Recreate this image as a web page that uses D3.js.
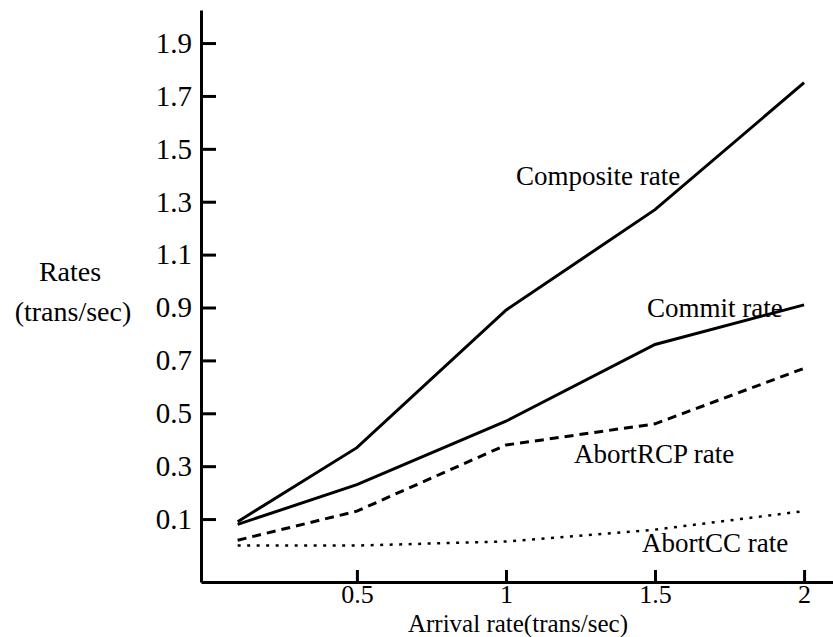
<!DOCTYPE html>
<html>
<head>
<meta charset="utf-8">
<script src="https://cdn.jsdelivr.net/npm/d3@7"></script>
<style>
  body { margin: 0; background: #fff; }
  svg text { font-family: "Liberation Serif", "Times New Roman", Times, "DejaVu Serif", serif; fill: #000; }
</style>
</head>
<body>
<div id="chart"></div>
<script>
// arrival rates where the simulation was sampled
var arrival = [0.1, 0.5, 1, 1.5, 2];

var composite = [0.09, 0.37, 0.89, 1.27, 1.75];
var commit = [0.08, 0.23, 0.47, 0.76, 0.91];
var abortRCP = [0.02, 0.13, 0.38, 0.46, 0.67];
var abortCC = [0.0, 0.0, 0.015, 0.06, 0.13];

var xTicks = [0.5, 1, 1.5, 2];
var yTicks = [0.1, 0.3, 0.5, 0.7, 0.9, 1.1, 1.3, 1.5, 1.7, 1.9];

var seriesNames = ["Composite rate", "Commit rate", "AbortRCP rate", "AbortCC rate"];
var seriesValues = [composite, commit, abortRCP, abortCC];
var seriesDash = [null, null, "9,6", "3,6.5"];

// where each curve's label sits, in data units (left edge, baseline)
var labelX = [1.034, 1.473, 1.228, 1.456];
var labelY = [1.363, 0.864, 0.312, -0.025];

var width = 833, height = 637;

var svg = d3.select("#chart").append("svg")
  .attr("width", width)
  .attr("height", height);

var x = d3.scaleLinear().domain([-0.023, 2.097]).range([201, 833]);
var y = d3.scaleLinear().domain([-0.138, 2.025]).range([582, 10]);

// x axis, ticks pointing up into the plot
var xAxis = svg.append("g")
  .attr("transform", "translate(0," + y(-0.138) + ")")
  .call(d3.axisBottom(x).tickValues(xTicks).tickSizeInner(-12).tickSizeOuter(0)
    .tickPadding(3).tickFormat(d3.format("")));

// y axis, ticks pointing right
var yAxis = svg.append("g")
  .attr("transform", "translate(" + x(-0.023) + ",0)")
  .call(d3.axisLeft(y).tickValues(yTicks).tickSizeInner(-15).tickSizeOuter(0)
    .tickPadding(9).tickFormat(d3.format(".1f")));

[xAxis, yAxis].forEach(function(ax) {
  ax.attr("font-family", null);
  ax.selectAll("path, line").attr("stroke", "#000").attr("stroke-width", 3);
});
yAxis.selectAll("text").attr("font-size", 29);
xAxis.selectAll("text").attr("font-size", 26);

var line = d3.line()
  .x(function(d, i) { return x(arrival[i]); })
  .y(function(d) { return y(d); });

seriesValues.forEach(function(vals, k) {
  svg.append("path")
    .datum(vals)
    .attr("d", line)
    .attr("fill", "none")
    .attr("stroke", "#000")
    .attr("stroke-width", k == 3 ? 2.5 : 3)
    .attr("stroke-dasharray", seriesDash[k]);

  svg.append("text")
    .attr("x", x(labelX[k]))
    .attr("y", y(labelY[k]))
    .attr("font-size", 27)
    .text(seriesNames[k]);
});

// axis titles
svg.append("text")
  .attr("x", (x(0.5) + x(1.5)) / 2 + 12)
  .attr("y", 631.5)
  .attr("text-anchor", "middle")
  .attr("font-size", 25)
  .text("Arrival rate(trans/sec)");

svg.append("text")
  .attr("x", 70)
  .attr("y", 281)
  .attr("text-anchor", "middle")
  .attr("font-size", 28)
  .text("Rates");

svg.append("text")
  .attr("x", 73)
  .attr("y", 321)
  .attr("text-anchor", "middle")
  .attr("font-size", 28)
  .text("(trans/sec)");
</script>
</body>
</html>
